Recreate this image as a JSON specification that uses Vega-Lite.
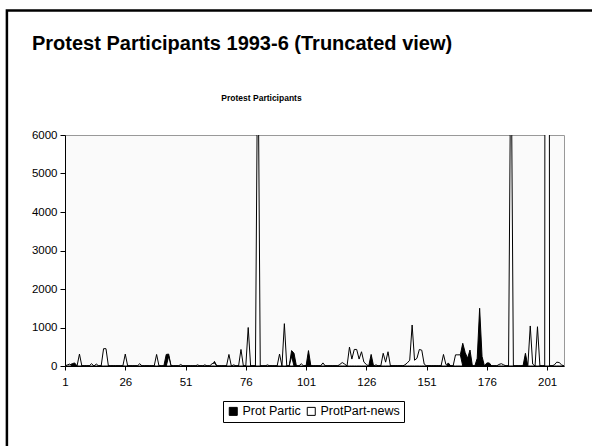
{
  "$schema": "https://vega.github.io/schema/vega-lite/v6.json",
  "width": 499,
  "height": 231,
  "autosize": {"type": "none"},
  "padding": {"left": 65, "top": 135, "right": 28, "bottom": 80},
  "background": "white",
  "title": {"text": "Protest Participants 1993-6 (Truncated view)", "anchor": "start", "frame": "group", "dx": -33, "offset": -61, "baseline": "alphabetic", "font": "Liberation Sans", "fontSize": 20, "fontWeight": "bold", "color": "black"},
  "config": {
    "view": {"fill": "#fafafa", "stroke": "#999999"},
    "font": "Liberation Sans",
    "axis": {"labelFont": "Liberation Sans", "labelColor": "black", "domainColor": "black", "tickColor": "black", "grid": false, "labelOverlap": false}
  },
  "data": {"values": [
    {"t":1,"a":0,"b":0},{"t":2,"a":0,"b":30},{"t":3,"a":30,"b":50},{"t":4,"a":60,"b":0},{"t":5,"a":80,"b":0},
    {"t":6,"a":0,"b":0},{"t":7,"a":0,"b":310},{"t":8,"a":0,"b":0},{"t":9,"a":0,"b":0},{"t":10,"a":0,"b":0},
    {"t":11,"a":0,"b":0},{"t":12,"a":0,"b":60},{"t":13,"a":0,"b":0},{"t":14,"a":0,"b":50},{"t":15,"a":0,"b":0},
    {"t":16,"a":0,"b":0},{"t":17,"a":0,"b":450},{"t":18,"a":0,"b":450},{"t":19,"a":0,"b":0},{"t":20,"a":0,"b":0},
    {"t":21,"a":0,"b":0},{"t":22,"a":0,"b":0},{"t":23,"a":0,"b":0},{"t":24,"a":0,"b":0},{"t":25,"a":0,"b":0},
    {"t":26,"a":0,"b":310},{"t":27,"a":0,"b":0},{"t":28,"a":0,"b":0},{"t":29,"a":0,"b":0},{"t":30,"a":0,"b":0},
    {"t":31,"a":0,"b":0},{"t":32,"a":0,"b":60},{"t":33,"a":0,"b":0},{"t":34,"a":0,"b":0},{"t":35,"a":0,"b":0},
    {"t":36,"a":0,"b":0},{"t":37,"a":0,"b":0},{"t":38,"a":0,"b":0},{"t":39,"a":0,"b":300},{"t":40,"a":0,"b":0},
    {"t":41,"a":0,"b":0},{"t":42,"a":0,"b":0},{"t":43,"a":300,"b":0},{"t":44,"a":310,"b":250},{"t":45,"a":0,"b":0},
    {"t":46,"a":0,"b":0},{"t":47,"a":0,"b":0},{"t":48,"a":0,"b":0},{"t":49,"a":0,"b":40},{"t":50,"a":0,"b":0},
    {"t":51,"a":0,"b":0},{"t":52,"a":0,"b":0},{"t":53,"a":0,"b":0},{"t":54,"a":0,"b":0},{"t":55,"a":0,"b":0},
    {"t":56,"a":0,"b":30},{"t":57,"a":0,"b":0},{"t":58,"a":0,"b":0},{"t":59,"a":0,"b":30},{"t":60,"a":0,"b":0},
    {"t":61,"a":0,"b":0},{"t":62,"a":0,"b":60},{"t":63,"a":120,"b":80},{"t":64,"a":0,"b":0},{"t":65,"a":0,"b":0},
    {"t":66,"a":0,"b":0},{"t":67,"a":0,"b":0},{"t":68,"a":0,"b":0},{"t":69,"a":0,"b":300},{"t":70,"a":0,"b":0},
    {"t":71,"a":0,"b":30},{"t":72,"a":0,"b":0},{"t":73,"a":0,"b":0},{"t":74,"a":0,"b":430},{"t":75,"a":0,"b":0},
    {"t":76,"a":0,"b":0},{"t":77,"a":0,"b":1000},{"t":78,"a":0,"b":0},{"t":79,"a":0,"b":0},{"t":80,"a":0,"b":0},
    {"t":81,"a":0,"b":9000},{"t":82,"a":0,"b":0},{"t":83,"a":0,"b":0},{"t":84,"a":0,"b":0},{"t":85,"a":0,"b":30},
    {"t":86,"a":0,"b":0},{"t":87,"a":0,"b":0},{"t":88,"a":0,"b":0},{"t":89,"a":0,"b":0},{"t":90,"a":0,"b":310},
    {"t":91,"a":0,"b":0},{"t":92,"a":0,"b":1100},{"t":93,"a":0,"b":0},{"t":94,"a":0,"b":0},{"t":95,"a":400,"b":250},
    {"t":96,"a":330,"b":0},{"t":97,"a":0,"b":0},{"t":98,"a":0,"b":0},{"t":99,"a":0,"b":60},{"t":100,"a":0,"b":0},
    {"t":101,"a":0,"b":0},{"t":102,"a":400,"b":0},{"t":103,"a":0,"b":0},{"t":104,"a":0,"b":0},{"t":105,"a":0,"b":0},
    {"t":106,"a":0,"b":0},{"t":107,"a":0,"b":0},{"t":108,"a":0,"b":80},{"t":109,"a":0,"b":0},{"t":110,"a":0,"b":0},
    {"t":111,"a":0,"b":0},{"t":112,"a":0,"b":0},{"t":113,"a":0,"b":0},{"t":114,"a":0,"b":0},{"t":115,"a":0,"b":40},
    {"t":116,"a":0,"b":90},{"t":117,"a":0,"b":50},{"t":118,"a":0,"b":0},{"t":119,"a":0,"b":490},{"t":120,"a":0,"b":180},
    {"t":121,"a":0,"b":430},{"t":122,"a":0,"b":430},{"t":123,"a":0,"b":180},{"t":124,"a":0,"b":370},{"t":125,"a":0,"b":100},
    {"t":126,"a":0,"b":40},{"t":127,"a":0,"b":0},{"t":128,"a":300,"b":0},{"t":129,"a":0,"b":0},{"t":130,"a":0,"b":30},
    {"t":131,"a":0,"b":0},{"t":132,"a":0,"b":0},{"t":133,"a":0,"b":330},{"t":134,"a":0,"b":100},{"t":135,"a":0,"b":370},
    {"t":136,"a":0,"b":0},{"t":137,"a":0,"b":0},{"t":138,"a":0,"b":0},{"t":139,"a":0,"b":0},{"t":140,"a":0,"b":0},
    {"t":141,"a":0,"b":0},{"t":142,"a":0,"b":30},{"t":143,"a":0,"b":80},{"t":144,"a":0,"b":150},{"t":145,"a":0,"b":1065},
    {"t":146,"a":0,"b":150},{"t":147,"a":0,"b":200},{"t":148,"a":0,"b":430},{"t":149,"a":0,"b":410},{"t":150,"a":0,"b":50},
    {"t":151,"a":0,"b":0},{"t":152,"a":0,"b":0},{"t":153,"a":0,"b":0},{"t":154,"a":0,"b":0},{"t":155,"a":0,"b":0},
    {"t":156,"a":0,"b":0},{"t":157,"a":0,"b":0},{"t":158,"a":0,"b":300},{"t":159,"a":0,"b":40},{"t":160,"a":80,"b":0},
    {"t":161,"a":0,"b":0},{"t":162,"a":0,"b":0},{"t":163,"a":0,"b":290},{"t":164,"a":100,"b":290},{"t":165,"a":290,"b":290},
    {"t":166,"a":590,"b":0},{"t":167,"a":350,"b":0},{"t":168,"a":200,"b":0},{"t":169,"a":415,"b":0},{"t":170,"a":0,"b":0},
    {"t":171,"a":0,"b":0},{"t":172,"a":200,"b":0},{"t":173,"a":1500,"b":0},{"t":174,"a":250,"b":0},{"t":175,"a":0,"b":0},
    {"t":176,"a":80,"b":0},{"t":177,"a":80,"b":0},{"t":178,"a":0,"b":0},{"t":179,"a":0,"b":0},{"t":180,"a":0,"b":0},
    {"t":181,"a":0,"b":40},{"t":182,"a":0,"b":60},{"t":183,"a":0,"b":30},{"t":184,"a":0,"b":0},{"t":185,"a":0,"b":0},
    {"t":186,"a":0,"b":9000},{"t":187,"a":0,"b":0},{"t":188,"a":0,"b":0},{"t":189,"a":0,"b":0},{"t":190,"a":0,"b":0},
    {"t":191,"a":0,"b":0},{"t":192,"a":330,"b":0},{"t":193,"a":0,"b":0},{"t":194,"a":0,"b":1040},{"t":195,"a":0,"b":50},
    {"t":196,"a":0,"b":0},{"t":197,"a":0,"b":1020},{"t":198,"a":0,"b":0},{"t":199,"a":0,"b":0},{"t":200,"a":0,"b":0},
    {"t":201,"a":0,"b":100000},{"t":202,"a":0,"b":0},{"t":203,"a":0,"b":0},{"t":204,"a":0,"b":30},{"t":205,"a":0,"b":100},
    {"t":206,"a":0,"b":90},{"t":207,"a":0,"b":30},{"t":208,"a":0,"b":0}
  ]},
  "layer": [
    {
      "mark": {"type": "area", "stroke": "black", "strokeWidth": 1, "clip": true, "opacity": 1, "fillOpacity": 1},
      "encoding": {
        "x": {"field": "t", "type": "quantitative", "scale": {"domain": [1, 208], "nice": false, "zero": false},
              "axis": {"values": [1, 26, 51, 76, 101, 126, 151, 176, 201], "title": null, "format": "d", "labelFontSize": 11.5, "tickSize": 4, "labelPadding": 6, "labelFlush": false}},
        "y": {"field": "a", "type": "quantitative", "scale": {"domain": [0, 6000], "nice": false},
              "axis": {"values": [0, 1000, 2000, 3000, 4000, 5000, 6000], "format": "d", "labelFontSize": 11.5, "tickSize": 5, "labelPadding": 3,
                       "title": "Protest Participants", "titleAngle": 0, "titleX": 196, "titleY": -38, "titleAlign": "center", "titleBaseline": "middle",
                       "titleFont": "Liberation Sans", "titleFontSize": 8.5, "titleFontWeight": "bold", "titleColor": "black"}},
        "fill": {"datum": "Prot Partic", "type": "nominal",
                 "scale": {"domain": ["Prot Partic", "ProtPart-news"], "range": ["black", "white"]},
                 "legend": {"orient": "none", "legendX": 158, "legendY": 266, "direction": "horizontal", "title": null,
                            "symbolType": "square", "symbolSize": 64, "symbolStrokeColor": "black", "symbolStrokeWidth": 1,
                            "labelFont": "Liberation Sans", "labelFontSize": 12.5, "labelColor": "black", "labelOffset": 3,
                            "strokeColor": "black", "fillColor": "white", "padding": 4, "columnPadding": 4,
                            "encode": {"symbols": {"update": {"stroke": {"value": "black"}, "strokeWidth": {"value": 1}}}}}}
      }
    },
    {
      "mark": {"type": "area", "stroke": "black", "strokeWidth": 1, "clip": true, "opacity": 1, "fillOpacity": 1},
      "encoding": {
        "x": {"field": "t", "type": "quantitative",
              "axis": {"values": [1, 26, 51, 76, 101, 126, 151, 176, 201], "title": null, "format": "d", "labelFontSize": 11.5, "tickSize": 4, "labelPadding": 6, "labelFlush": false}},
        "y": {"field": "b", "type": "quantitative",
              "axis": {"values": [0, 1000, 2000, 3000, 4000, 5000, 6000], "format": "d", "labelFontSize": 11.5, "tickSize": 5, "labelPadding": 3,
                       "title": "Protest Participants", "titleAngle": 0, "titleX": 196, "titleY": -38, "titleAlign": "center", "titleBaseline": "middle",
                       "titleFont": "Liberation Sans", "titleFontSize": 8.5, "titleFontWeight": "bold", "titleColor": "black"}},
        "fill": {"datum": "ProtPart-news", "type": "nominal"}
      }
    },
    {
      "data": {"values": [{}]},
      "mark": {"type": "rect", "filled": false, "stroke": "black", "strokeWidth": 2.5, "clip": false},
      "encoding": {
        "x": {"datum": -23.1, "type": "quantitative",
              "axis": {"values": [1, 26, 51, 76, 101, 126, 151, 176, 201], "title": null, "format": "d", "labelFontSize": 11.5, "tickSize": 4, "labelPadding": 6, "labelFlush": false}},
        "x2": {"datum": 223},
        "y": {"datum": 9234, "type": "quantitative",
              "axis": {"values": [0, 1000, 2000, 3000, 4000, 5000, 6000], "format": "d", "labelFontSize": 11.5, "tickSize": 5, "labelPadding": 3,
                       "title": "Protest Participants", "titleAngle": 0, "titleX": 196, "titleY": -38, "titleAlign": "center", "titleBaseline": "middle",
                       "titleFont": "Liberation Sans", "titleFontSize": 8.5, "titleFontWeight": "bold", "titleColor": "black"}},
        "y2": {"datum": -2442}
      }
    }
  ]
}
